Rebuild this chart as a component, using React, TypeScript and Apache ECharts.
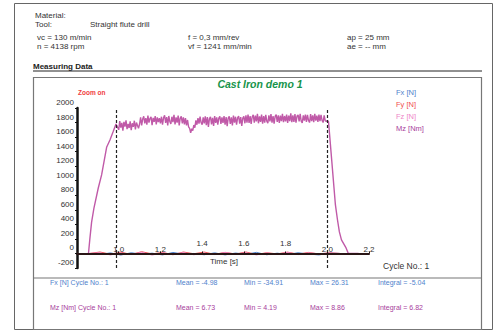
import React, { useEffect, useRef } from 'react';
import * as echarts from 'echarts';

// ---- data ----
const yTicks = [-200, 0, 200, 400, 600, 800, 1000, 1200, 1400, 1600, 1800, 2000];
const xTickLabels = ['1.0', '1.2', '1.4', '1.6', '1.8', '2.0', '2.2'];
const raisedLabels = ['1.4', '1.6', '1.8'];

const mzRampT = [0.855, 0.862, 0.87, 0.881, 0.902, 0.918, 0.942, 0.958, 0.974, 0.987];
const mzRampV = [0, 210, 430, 620, 900, 1080, 1460, 1560, 1680, 1780];
const mzSteadyStart = 1.0;
const mzSteadyStep = 0.005;
const mzSteadyV = [
  1700, 1820, 1730, 1795, 1690, 1810, 1745, 1830, 1710, 1780, 1725, 1815, 1695, 1790, 1740, 1825, 1705, 1800, 1760, 1720,
  1780, 1870, 1760, 1850, 1885, 1790, 1860, 1770, 1895, 1800, 1855, 1880, 1765, 1865, 1810, 1890, 1775, 1870, 1805, 1860,
  1790, 1880, 1770, 1865, 1900, 1795, 1875, 1760, 1890, 1815, 1780, 1880, 1805, 1905, 1775, 1870, 1800, 1895, 1760, 1860,
  1885, 1790, 1870, 1775, 1860, 1760, 1835, 1740, 1720, 1660, 1715, 1690, 1765, 1730, 1830, 1770, 1860, 1785, 1880, 1800,
  1770, 1870, 1790, 1885, 1765, 1875, 1740, 1855, 1880, 1775, 1865, 1755, 1890, 1795, 1870, 1770, 1860, 1885, 1780, 1870,
  1795, 1890, 1770, 1875, 1750, 1860, 1885, 1780, 1870, 1760, 1895, 1800, 1880, 1770, 1865, 1890, 1785, 1875, 1755, 1860,
  1885, 1790, 1900, 1800, 1910, 1795, 1890, 1780, 1880, 1905, 1800, 1895, 1815, 1920, 1790, 1885, 1810, 1910, 1785, 1890,
  1800, 1905, 1820, 1790, 1900, 1815, 1915, 1800, 1890, 1785, 1885, 1910, 1810, 1900, 1795, 1895, 1820, 1920, 1805, 1890,
  1815, 1910, 1795, 1895, 1820, 1925, 1805, 1900, 1810, 1915, 1800, 1890, 1905, 1815, 1920, 1820, 1795, 1900, 1825, 1910,
  1810, 1905, 1830, 1800, 1915, 1820, 1900, 1805, 1920, 1825, 1895, 1810, 1910, 1820, 1905, 1830, 1800, 1900, 1825, 1815,
  1830,
];
const mzTailT = [2.006, 2.039, 2.049, 2.058, 2.068, 2.09, 2.101, 2.15];
const mzTailV = [1810, 667, 460, 296, 186, 76, 0, 0];

const fTime = [0.86, 0.91, 0.96, 1.01, 1.06, 1.11, 1.16, 1.21, 1.26, 1.31, 1.36, 1.41, 1.46, 1.51, 1.56, 1.61, 1.66, 1.71, 1.76, 1.81, 1.86, 1.91, 1.96, 2.01, 2.06];
const fxV = [0, -15, 8, -22, 10, -12, 4, -20, 14, -10, 0, -18, 9, -20, 6, -12, 15, -18, 4, -15, 10, -8, -20, 5, 0];
const fyV = [0, 20, -10, 18, -14, 24, -6, 14, -18, 20, -4, 19, -12, 15, -8, 20, -14, 10, -6, 18, -10, 14, -7, 8, 0];
const fzV = [0, 10, -20, 7, -14, 17, -22, 8, -10, 12, -18, 5, -15, 13, -8, 10, -20, 7, -12, 15, -16, 9, -5, 7, 0];

const legendNames = ['Fx [N]', 'Fy [N]', 'Fz [N]', 'Mz [Nm]'];
const colors = ['#4f82cc', '#f0504f', '#ee86c8', '#a8409c'];
const mzLineColor = '#c05aa8';

const fxStats = ['Fx [N] Cycle No.: 1', 'Mean = -4.98', 'Min = -34.91', 'Max = 26.31', 'Integral = -5.04'];
const mzStats = ['Mz [Nm] Cycle No.: 1', 'Mean = 6.73', 'Min = 4.19', 'Max = 8.86', 'Integral = 6.82'];
const statX = [50, 176, 244, 310, 378];

const FONT = 'Liberation Sans, Arial, sans-serif';

// plot geometry
const GRID_TOP = 108;
const GRID_BOTTOM_Y = 268;
const Y_MIN = -200;
const Y_MAX = 2000;

function txt(text: string, x: number, y: number, opts: any = {}) {
  const size = opts.size ?? 8;
  const weight = opts.weight ?? 'normal';
  const style = opts.italic ? 'italic' : 'normal';
  const align = opts.align ?? 'left';
  return {
    type: 'text',
    x,
    y,
    z: 100,
    silent: true,
    style: {
      text,
      font: `${style} ${weight} ${size}px ${FONT}`,
      fill: opts.color ?? '#333',
      align,
      verticalAlign: 'middle',
      textAlign: align,
      textVerticalAlign: 'middle',
    },
  };
}

export default function App() {
  const ref = useRef<HTMLDivElement>(null);
  useEffect(() => {
    if (!ref.current) return;
    const chart = echarts.init(ref.current, undefined, { renderer: 'svg' });

    const mzData: number[][] = [];
    mzRampT.forEach((t, i) => mzData.push([t, mzRampV[i]]));
    mzSteadyV.forEach((v, i) => mzData.push([+(mzSteadyStart + i * mzSteadyStep).toFixed(3), v]));
    mzTailT.forEach((t, i) => mzData.push([t, mzTailV[i]]));

    const fSeries = (name: string, vals: number[], color: string) => ({
      name,
      type: 'line',
      data: fTime.map((t, i) => [t, vals[i]]),
      showSymbol: false,
      lineStyle: { color, width: 1 },
      z: 2,
    });

    // x axis drawn at the value 0 of the y axis, placed from the top of the grid
    const zeroOffset = ((0 - Y_MAX) / (Y_MIN - Y_MAX)) * (GRID_BOTTOM_Y - GRID_TOP);

    const graphic: any[] = [
      { type: 'rect', shape: { x: 14.5, y: 3.5, width: 478, height: 326 }, style: { fill: 'none', stroke: '#666', lineWidth: 1 }, silent: true },
      { type: 'rect', shape: { x: 33.5, y: 77.5, width: 448, height: 252 }, style: { fill: 'none', stroke: '#777', lineWidth: 1.2 }, silent: true },
      { type: 'line', shape: { x1: 33, y1: 278, x2: 481, y2: 278 }, style: { stroke: '#777', lineWidth: 1.2 }, silent: true },
      { type: 'line', shape: { x1: 33, y1: 71, x2: 482, y2: 71 }, style: { stroke: '#222', lineWidth: 1 }, silent: true },
      txt('Material:', 35, 15),
      txt('Tool:', 35, 24.5),
      txt('Straight flute drill', 90, 24.5),
      txt('vc = 130 m/min', 37, 37),
      txt('n = 4138 rpm', 37, 46),
      txt('f = 0,3 mm/rev', 188, 37),
      txt('vf = 1241 mm/min', 188, 46),
      txt('ap = 25 mm', 347, 37),
      txt('ae = -- mm', 347, 46),
      txt('Measuring Data', 33, 66.5, { weight: 'bold', color: '#222' }),
      txt('Cast Iron demo 1', 260, 84, { size: 10.5, weight: 'bold', italic: true, color: '#17944a', align: 'center' }),
      txt('Zoom on', 78, 92, { size: 6.5, weight: 'bold', color: '#f04040' }),
      ...legendNames.map((n, i) => txt(n, 396, 92 + i * 12, { size: 7.5, color: colors[i] })),
      txt('Time [s]', 224, 261, { size: 8, color: '#333', align: 'center' }),
      txt('Cycle No.: 1', 383, 266, { size: 8.5, color: '#333' }),
      ...fxStats.map((s, i) => txt(s, statX[i], 282, { size: 7, color: colors[0] })),
      ...mzStats.map((s, i) => txt(s, statX[i], 307, { size: 7, color: colors[3] })),
    ];

    chart.setOption({
      animation: false,
      grid: { left: 77, right: 127, top: GRID_TOP, bottom: 331 - GRID_BOTTOM_Y, containLabel: false },
      xAxis: {
        type: 'value',
        position: 'top',
        offset: -zeroOffset,
        min: 0.8,
        max: 2.2,
        interval: 0.2,
        z: 10,
        splitLine: { show: false },
        axisLine: { onZero: false, lineStyle: { color: '#2a1616', width: 2 } },
        axisTick: { show: true, inside: false, length: 2, lineStyle: { color: '#2a1616', width: 1 } },
        axisLabel: {
          margin: 0,
          fontFamily: FONT,
          fontSize: 8,
          color: '#333',
          formatter: (v: number) => {
            const s = v.toFixed(1);
            if (!xTickLabels.includes(s)) return '';
            return raisedLabels.includes(s) ? `{hi|${s}}` : `{lo|${s}}`;
          },
          rich: {
            lo: { fontFamily: FONT, fontSize: 8, color: '#333' },
            hi: { fontFamily: FONT, fontSize: 8, color: '#333', padding: [0, 0, 6, 0] },
          },
        },
      },
      yAxis: {
        type: 'value',
        min: Y_MIN,
        max: Y_MAX,
        interval: 200,
        z: 10,
        splitLine: { show: false },
        axisLine: { show: true, onZero: false, lineStyle: { color: '#111', width: 2.5 } },
        axisTick: { show: true, length: 2, lineStyle: { color: '#111', width: 1 } },
        axisLabel: {
          margin: 3,
          fontFamily: FONT,
          fontSize: 8,
          color: '#333',
          verticalAlign: 'bottom',
          lineHeight: 11,
          formatter: (v: number) => String(v),
        },
      },
      series: [
        fSeries('Fx [N]', fxV, colors[0]),
        fSeries('Fy [N]', fyV, colors[1]),
        fSeries('Fz [N]', fzV, colors[2]),
        {
          name: 'Mz [Nm]',
          type: 'line',
          data: mzData,
          showSymbol: false,
          lineStyle: { color: mzLineColor, width: 1.4 },
          z: 3,
          markLine: {
            silent: true,
            symbol: 'none',
            label: { show: false },
            lineStyle: { color: '#222', type: [3, 2], width: 1.2 },
            data: [{ xAxis: 0.987 }, { xAxis: 2.0 }],
          },
        },
      ],
      graphic,
    });
    return () => chart.dispose();
  }, []);
  return (
    <div
      ref={ref}
      style={{ position: 'absolute', left: 0, top: 0, width: 496, height: 331, background: '#fff' }}
    />
  );
}
